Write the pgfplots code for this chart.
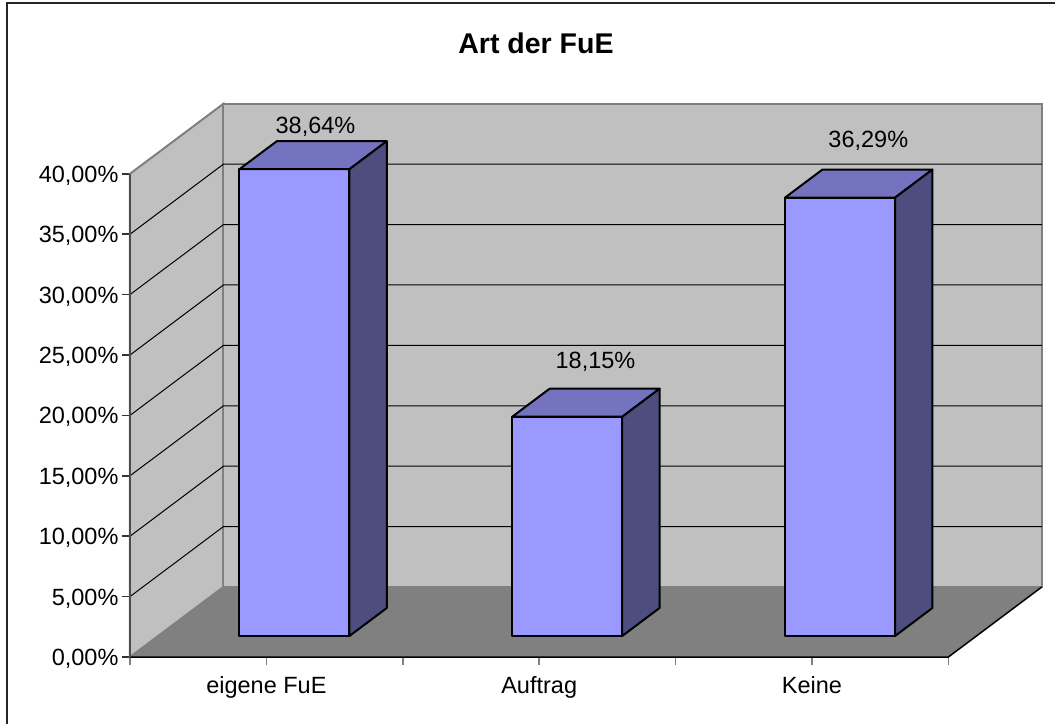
\documentclass[border=0pt]{standalone}
\usepackage{fontspec}
\setmainfont{Liberation Sans}
\usepackage{pgfplots}
\pgfplotsset{compat=1.18}
\definecolor{barfront}{HTML}{9999FF}
\definecolor{bartop}{HTML}{7373BF}
\definecolor{barside}{HTML}{4D4D80}
\definecolor{wallc}{HTML}{C0C0C0}
\definecolor{floorc}{HTML}{808080}
\definecolor{walledge}{HTML}{808080}
\newcommand{\lbl}{\fontsize{23.5}{27}\selectfont}
% #1 = category index, #2 = value (percent)
\newcommand{\threedbar}[2]{%
  \pgfmathsetmacro{\bxL}{#1+0.1027-0.2016}%
  \pgfmathsetmacro{\bxR}{#1+0.1027+0.2016}%
  \pgfmathsetmacro{\bxLL}{\bxL+0.13696}%
  \pgfmathsetmacro{\bxRR}{\bxR+0.13696}%
  \pgfmathsetmacro{\bxB}{1.7385}%
  \pgfmathsetmacro{\bxBB}{1.7385+2.318}%
  \pgfmathsetmacro{\bxT}{1.7385+#2}%
  \pgfmathsetmacro{\bxTT}{\bxT+2.318}%
  \edef\bxdoit{%
    \noexpand\addplot[fill=barfront, draw=black, line width=2pt, line join=round, forget plot] coordinates {(\bxL,\bxB) (\bxR,\bxB) (\bxR,\bxT) (\bxL,\bxT)} -- cycle;
    \noexpand\addplot[fill=bartop, draw=black, line width=2pt, line join=round, forget plot] coordinates {(\bxL,\bxT) (\bxR,\bxT) (\bxRR,\bxTT) (\bxLL,\bxTT)} -- cycle;
    \noexpand\addplot[fill=barside, draw=black, line width=2pt, line join=round, forget plot] coordinates {(\bxR,\bxB) (\bxRR,\bxBB) (\bxRR,\bxTT) (\bxR,\bxT)} -- cycle;
  }\bxdoit
}
\begin{document}
\begin{tikzpicture}
\useasboundingbox (0,0) rectangle (1055pt,724pt);
\fill[white] (0,0) rectangle (1055pt,724pt);
\draw[line width=2pt, black!85] (7.3pt,0) -- (7.3pt,720.7pt) -- (1055pt,720.7pt);
\node[anchor=base, font=\fontsize{28.5}{32}\selectfont\bfseries] at (536pt,670.7pt) {Art der FuE};
\begin{axis}[
  at={(130pt,67pt)}, anchor=south west,
  scale only axis, width=911.8pt, height=553.2pt,
  xmin=-0.5, xmax=2.8424, ymin=0, ymax=45.795,
  clip=false,
  axis line style={draw=none},
  tick align=outside, xtick pos=bottom, ytick pos=left,
  major tick length=8pt,
  xtick={-0.5,0.5,1.5,2.5}, xticklabels={},
  x tick style={draw=walledge, line width=1.5pt},
  extra x ticks={0,1,2},
  extra x tick labels={eigene FuE,Auftrag,Keine},
  extra x tick style={tick style={draw=none}, xticklabel style={anchor=base, yshift=-28.5pt}},
  ytick={0,5,...,40},
  yticklabels={{0,00\%},{5,00\%},{10,00\%},{15,00\%},{20,00\%},{25,00\%},{30,00\%},{35,00\%},{40,00\%}},
  y tick style={draw=black!80, line width=1.5pt},
  yticklabel style={anchor=base east, yshift=-8.5pt},
  tick label style={font=\lbl},
]
% walls and floor
\addplot[fill=wallc, draw=walledge, line width=2pt, forget plot] coordinates {(-0.5,0) (-0.5,40) (-0.1576,45.795) (-0.1576,5.795)} -- cycle;
\addplot[fill=wallc, draw=walledge, line width=2pt, forget plot] coordinates {(-0.1576,5.795) (2.8424,5.795) (2.8424,45.795) (-0.1576,45.795)} -- cycle;
\addplot[fill=floorc, draw=none, forget plot] coordinates {(-0.5,0) (2.5,0) (2.8424,5.795) (-0.1576,5.795)} -- cycle;
\pgfplotsinvokeforeach{5,10,15,20,25,30,35}{
  \draw[black, line width=1pt] (axis cs:-0.5,#1) -- (axis cs:-0.1576,{#1+5.795}) -- (axis cs:2.8424,{#1+5.795});
}
\draw[black, line width=1.5pt] (axis cs:-0.5,0) -- (axis cs:2.5,0) -- (axis cs:2.8424,5.795);
\draw[black!70, line width=2pt] (axis cs:-0.5,0) -- (axis cs:-0.5,40);
% bars
\threedbar{0}{38.64}
\threedbar{1}{18.15}
\threedbar{2}{36.29}
% data labels
\addplot[draw=none, mark=none, nodes near coords, point meta=explicit symbolic,
  every node near coord/.append style={anchor=base, font=\lbl, inner sep=0pt, text=black}]
  coordinates {(0.18,43.35) [38,64\%] (1.2064,23.9) [18,15\%] (2.2064,42.19) [36,29\%]};
\end{axis}
\end{tikzpicture}
\end{document}
